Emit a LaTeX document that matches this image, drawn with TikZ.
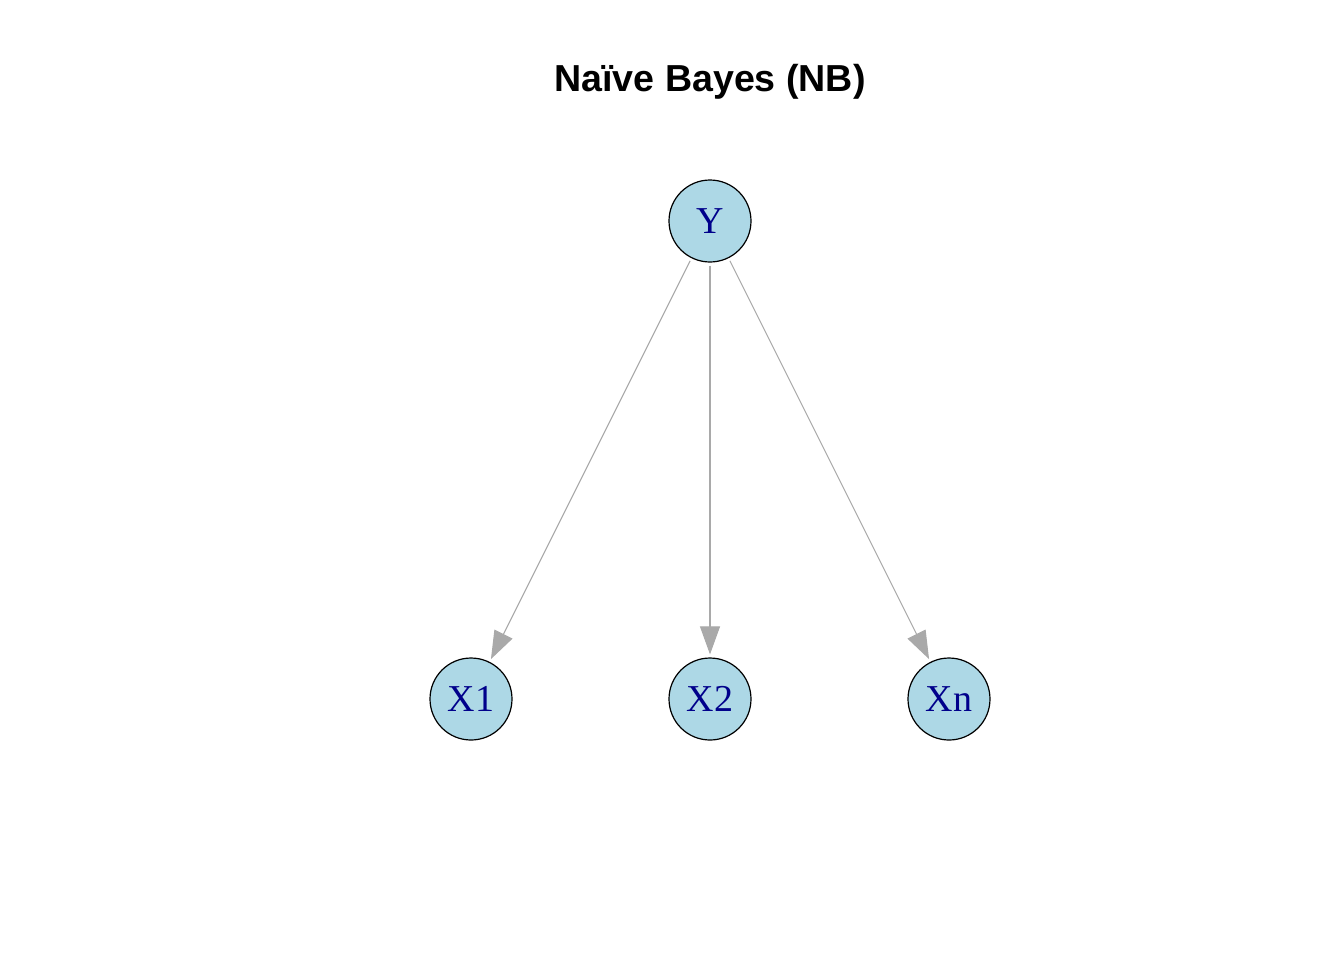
\documentclass[tikz,border=0pt]{standalone}
\usepackage{fontspec}
\setmainfont{Liberation Serif}
\newfontfamily\titlefont{Liberation Sans}
\usetikzlibrary{arrows.meta}
\definecolor{nodefill}{RGB}{173,216,230}
\definecolor{labelblue}{RGB}{0,0,139}
\definecolor{edgegray}{RGB}{169,169,169}
\begin{document}
\begin{tikzpicture}[x=0.5pt, y=-0.5pt,
   var/.style={circle, draw=black, line width=0.6pt, fill=nodefill, minimum size=41pt, inner sep=0pt, text=labelblue, font=\fontsize{19}{19}\selectfont},
   edge/.style={draw=edgegray, line width=0.55pt, -{Triangle[length=14pt, width=10pt]}, shorten <=1.5pt, shorten >=1.5pt}]
   \useasboundingbox (0,0) rectangle (1344,960);
   \node[font=\titlefont\bfseries\fontsize{18.8}{18.8}\selectfont] (title) at (710,82) {Naïve Bayes (NB)};
   \node[var] (y) at (710,221) {\raisebox{-1pt}{Y}};
   \node[var] (x1) at (471,699) {\raisebox{-1pt}{X1}};
   \node[var] (x2) at (710,699) {\raisebox{-1pt}{X2}};
   \node[var] (xn) at (949,699) {\raisebox{-1pt}{Xn}};
   \draw[edge] (y) -- (x1);
   \draw[edge] (y) -- (x2);
   \draw[edge] (y) -- (xn);
\end{tikzpicture}
\end{document}
